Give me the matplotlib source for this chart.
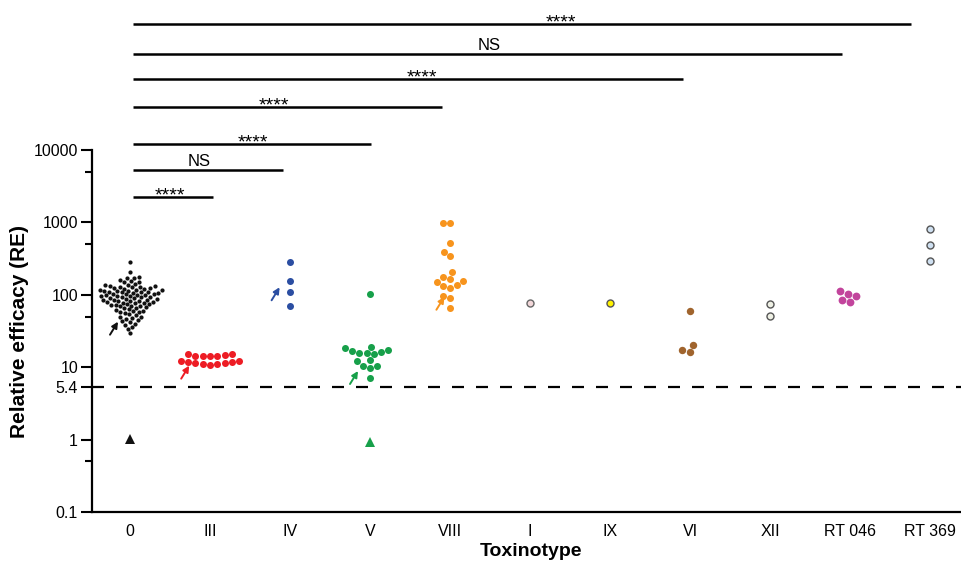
import numpy as np
import matplotlib
matplotlib.use("Agg")
import matplotlib.pyplot as plt
from matplotlib.ticker import FixedLocator, NullFormatter

plt.rcParams['font.family'] = ['Liberation Sans', 'DejaVu Sans']

categories = ["0", "III", "IV", "V", "VIII", "I", "IX", "VI", "XII", "RT 046", "RT 369"]

re_0 = [285, 208, 175, 170, 168, 160, 155, 150, 148,
        140, 138, 135, 133, 131, 130, 128, 127, 125, 124, 122, 120,
        118, 116, 115, 114, 113, 112, 111, 110, 109, 108, 107, 106,
        103, 102, 101, 100, 99, 98, 97, 96, 95, 94, 93, 92,
        90, 89, 88, 87, 86, 85, 84, 83, 82, 81, 80, 79,
        78, 77, 76, 75, 74, 73, 72, 71, 70, 69,
        67, 66, 65, 63, 62, 60, 59, 58, 57, 56,
        54, 52, 50, 49, 48, 46, 45,
        43, 42, 40, 38, 36, 34, 30]
re_III = [15.1, 14.3, 14.3, 14.4, 14.3, 14.6, 15.1, 12.2, 11.7, 11.3, 11.1, 10.6, 11.1, 11.3, 11.8, 12.1]
re_IV = [284, 155, 108, 71]
re_V = [104, 19.0, 17.3, 16.1, 15.6, 15.1, 15.7, 16.6, 18.4, 12.4, 10.5, 9.8, 10.3, 12.1, 7.0]
re_VIII = [966, 980, 519, 339, 390, 206, 164, 150, 176, 153, 123, 131, 135, 90, 96, 66]
re_I = [77]
re_IX = [77]
re_VI = [60, 20.4, 16.2, 17.1]
re_XII = [74, 51]
re_RT046 = [95, 114, 79, 86, 104]
re_RT369 = [811, 487, 293]

# below-threshold strains (triangles)
tri_categories = ["0", "V"]
tri_values = [1.01, 0.92]

threshold = 5.4

# significance comparisons vs toxinotype 0
comp_targets = ["III", "IV", "V", "VIII", "VI", "RT 046", "RT 369"]
comp_labels = ["****", "NS", "****", "****", "****", "NS", "****"]

# arrows (category, value) marking the reference strain in each group
arrow_cats = ["0", "III", "IV", "V", "VIII"]
arrow_vals = [42.5, 10.5, 127, 8.86, 94]

groups = [re_0, re_III, re_IV, re_V, re_VIII, re_I, re_IX, re_VI, re_XII, re_RT046, re_RT369]
face = ["#111111", "#ed1c24", "#2b4ea2", "#17a04a", "#f7941d", "#f2d7d9", "#fff200",
        "#a0642d", "#eef0e4", "#c2449c", "#cfe0f1"]
edge = [None, None, None, None, None, "#666666", "#555555", None, "#555555", None, "#555555"]
diam_px = [4.2, 7.0, 7.0, 7.0, 7.0, 8.4, 8.4, 7.4, 8.4, 7.8, 8.4]

W, H = 961, 567
DPI = 100
fig = plt.figure(figsize=(W / DPI, H / DPI), dpi=DPI)
ax_left, ax_bottom, ax_right, ax_top = 92, 512, 961, 0
ax = fig.add_axes([ax_left / W, 1 - ax_bottom / H, (ax_right - ax_left) / W, (ax_bottom - ax_top) / H])
ax.set_yscale('log')
px_per_decade = 72.4
ymax = 10 ** (-1 + (ax_bottom - ax_top) / px_per_decade)
ax.set_ylim(0.1, ymax)
cat_spacing = 80.0
x0_px = 130
xl = -(x0_px - ax_left) / cat_spacing
ax.set_xlim(xl, xl + (ax_right - ax_left) / cat_spacing)
AH = ax_bottom - ax_top


def swarm_offsets(values, diam):
    """beeswarm layout in pixel space, returns x offsets in data units"""
    ys = ax.transData.transform(np.column_stack([np.zeros(len(values)), values]))[:, 1]
    order = np.argsort(ys)
    placed = []
    offs = np.zeros(len(values))
    for i in order:
        y = ys[i]
        near = [(px, py) for px, py in placed if abs(py - y) < diam]
        cands = [0.0]
        for px, py in near:
            dx = np.sqrt(diam ** 2 - (py - y) ** 2)
            cands += [px + dx, px - dx]
        cands = sorted(cands, key=lambda c: (abs(c), c))
        for c in cands:
            ok = all((c - px) ** 2 + (y - py) ** 2 >= diam ** 2 - 1e-6 for px, py in near)
            if ok:
                offs[i] = c
                placed.append((c, y))
                break
    return offs / cat_spacing


for i, vals in enumerate(groups):
    d = diam_px[i]
    offs = swarm_offsets(vals, d + 0.4)
    if edge[i] is None:
        ax.plot(i + offs, vals, 'o', ms=d * 72 / DPI, mfc=face[i], mec=face[i], mew=0,
                ls='none', zorder=3)
    else:
        mew = 1.0
        ax.plot(i + offs, vals, 'o', ms=d * 72 / DPI - mew, mfc=face[i], mec=edge[i], mew=mew,
                ls='none', zorder=3)

for c, v in zip(tri_categories, tri_values):
    i = categories.index(c)
    ax.plot(i, v, '^', ms=6.5, mfc=face[i], mec=face[i], mew=0, zorder=3)

# arrows (horizontal shift of the tip within each swarm, in category units)
arrow_dx = [-0.15, -0.26, -0.13, -0.15, -0.07]
for c, v, dx in zip(arrow_cats, arrow_vals, arrow_dx):
    i = categories.index(c)
    ax.annotate("", xy=(i + dx, v), xytext=(-8, -13), textcoords='offset pixels',
                xycoords='data', zorder=4,
                arrowprops=dict(arrowstyle='-|>', color=face[i], lw=1.4,
                                mutation_scale=9, shrinkA=0, shrinkB=0))

ax.axhline(threshold, color='black', lw=1.6, dashes=(5.4, 5.4), zorder=1)

# axes styling
for s in ['top', 'right']:
    ax.spines[s].set_visible(False)
ax.spines['left'].set_bounds(0.1, 10000)
ax.spines['left'].set_linewidth(1.6)
ax.spines['bottom'].set_linewidth(1.6)
ax.set_yticks([0.1, 1, 5.4, 10, 100, 1000, 10000])
ax.set_yticklabels(["0.1", "1", "5.4", "10", "100", "1000", "10000"], fontsize=11.5)
ax.yaxis.set_minor_locator(FixedLocator([0.5, 50, 500, 5000]))
ax.yaxis.set_minor_formatter(NullFormatter())
ax.tick_params(axis='y', which='major', length=8, width=1.5, pad=2)
ax.tick_params(axis='y', which='minor', length=5, width=1.5)
ax.set_xticks(range(len(categories)))
ax.set_xticklabels(categories, fontsize=11.5)
ax.tick_params(axis='x', length=0, pad=9)
ax.set_ylabel("Relative efficacy (RE)", fontsize=15, fontweight='bold')
ax.yaxis.set_label_coords((29 - ax_left) / (ax_right - ax_left), (ax_bottom - 332) / AH)
ax.set_xlabel("Toxinotype", fontsize=14, fontweight='bold')
ax.xaxis.set_label_coords((531 - ax_left) / (ax_right - ax_left), (ax_bottom - 543) / AH)

# significance bars (layout in pixels from top of figure)
bar_y_px = [197, 170, 144, 107, 79, 54, 24]
bar_end_adj = [0.04, -0.09, 0.01, -0.1, -0.09, -0.1, -0.24]
label_x = [0.5, 0.86, 1.54, 1.8, 3.65, 4.49, 5.39]
trans = ax.get_xaxis_transform()
for tgt, lab, ypx, adj, lx in zip(comp_targets, comp_labels, bar_y_px, bar_end_adj, label_x):
    yf = (ax_bottom - ypx) / AH
    j = categories.index(tgt)
    ax.plot([0.04, j + adj], [yf, yf], color='black', lw=1.8, transform=trans, clip_on=False,
            solid_capstyle='butt')
    if lab == "NS":
        ax.text(lx, yf + 3.5 / AH, lab, transform=trans, ha='center', va='baseline',
                fontsize=12)
    else:
        ax.text(lx, yf - 3 / AH, lab, transform=trans, ha='center', va='baseline',
                fontsize=14)

fig.savefig("out.png", dpi=DPI)
